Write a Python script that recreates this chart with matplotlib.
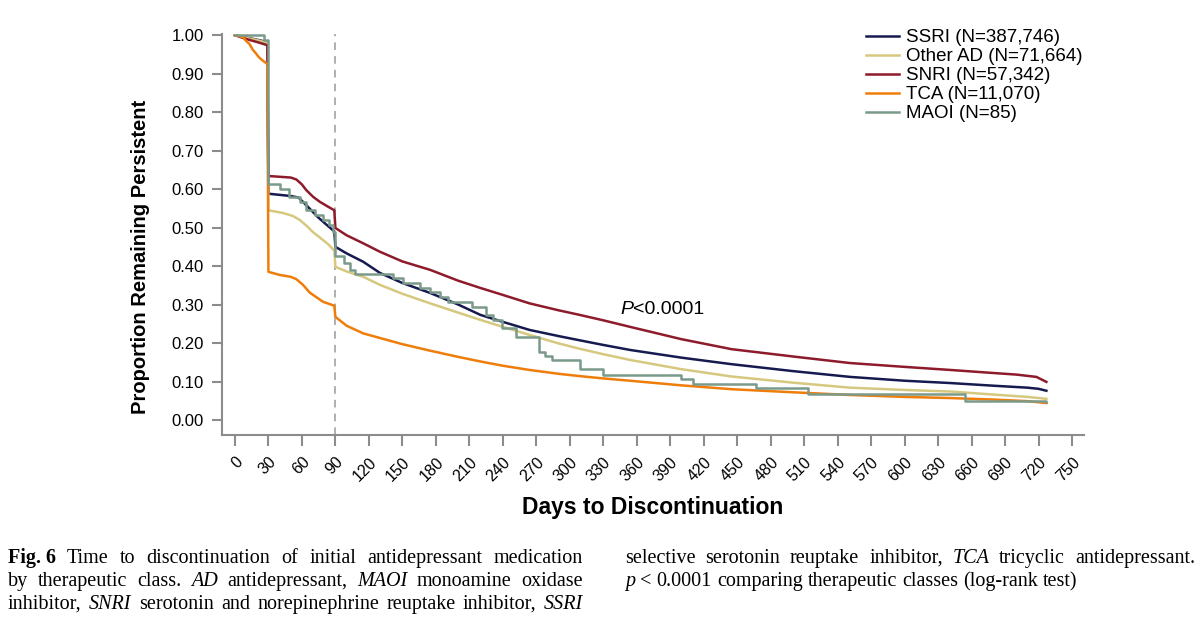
import numpy as np
import matplotlib.pyplot as plt

plt.rcParams['font.family'] = ['Liberation Sans', 'DejaVu Sans']

# ---- data (days, proportion persistent) ----
ssri_days = [0, 10, 20, 29, 30, 40, 50, 57, 65, 74, 81, 89, 90, 100, 115, 130, 150, 175, 200, 220,
             240, 264, 290, 309, 330, 354, 400, 445, 500, 551, 600, 641, 680, 710, 720, 727]
ssri_vals = [1.00, 0.994, 0.988, 0.982, 0.588, 0.585, 0.582, 0.578, 0.555, 0.528, 0.51, 0.49, 0.45,
             0.433, 0.411, 0.382, 0.356, 0.33, 0.30, 0.273, 0.255, 0.234, 0.218, 0.207, 0.195, 0.182,
             0.162, 0.145, 0.127, 0.112, 0.102, 0.096, 0.089, 0.084, 0.081, 0.076]

other_days = [0, 10, 20, 29, 30, 43, 52, 58, 64, 70, 77, 83, 89, 90, 100, 115, 130, 150, 175, 200, 220,
              240, 264, 290, 309, 330, 354, 400, 445, 500, 551, 600, 641, 680, 710, 727]
other_vals = [1.00, 0.993, 0.987, 0.98, 0.545, 0.538, 0.53, 0.52, 0.505, 0.488, 0.472, 0.458, 0.44, 0.398,
              0.386, 0.372, 0.351, 0.328, 0.303, 0.279, 0.26, 0.242, 0.221, 0.199, 0.185, 0.171, 0.156,
              0.132, 0.113, 0.097, 0.084, 0.078, 0.074, 0.066, 0.060, 0.055]

snri_days = [0, 10, 20, 29, 30, 40, 50, 55, 60, 64, 70, 76, 83, 89, 90, 100, 115, 130, 150, 175, 200,
             220, 240, 264, 290, 309, 330, 354, 400, 445, 500, 551, 600, 641, 680, 700, 718, 727]
snri_vals = [1.00, 0.99, 0.982, 0.974, 0.634, 0.632, 0.63, 0.625, 0.612, 0.597, 0.58, 0.567, 0.555,
             0.545, 0.499, 0.48, 0.459, 0.437, 0.412, 0.39, 0.362, 0.343, 0.325, 0.303, 0.285, 0.273,
             0.259, 0.242, 0.21, 0.184, 0.165, 0.148, 0.138, 0.130, 0.122, 0.118, 0.112, 0.099]

tca_days = [0, 7, 10, 13, 16, 19, 21, 24, 29, 30, 40, 50, 55, 61, 67, 79, 89, 90, 100, 115, 130, 150,
            175, 200, 220, 240, 264, 290, 309, 330, 354, 400, 445, 500, 551, 600, 641, 680, 710, 727]
tca_vals = [1.00, 0.995, 0.985, 0.977, 0.962, 0.952, 0.944, 0.936, 0.925, 0.385, 0.377, 0.372, 0.366,
            0.351, 0.331, 0.307, 0.297, 0.268, 0.245, 0.225, 0.213, 0.197, 0.18, 0.164, 0.152, 0.141,
            0.13, 0.12, 0.114, 0.108, 0.102, 0.09, 0.08, 0.072, 0.065, 0.060, 0.057, 0.053, 0.049, 0.044]

maoi_days = [0, 26, 30, 40, 48, 58, 64, 72, 79, 84, 88, 90, 98, 103, 108, 142, 151, 166, 175, 184,
             191, 212, 225, 231, 239, 252, 272, 278, 284, 309, 330, 400, 410, 467, 513, 654, 727]
maoi_vals = [1.00, 0.988, 0.612, 0.600, 0.580, 0.567, 0.545, 0.532, 0.519, 0.507, 0.489, 0.426, 0.407,
             0.390, 0.379, 0.368, 0.355, 0.344, 0.333, 0.320, 0.307, 0.293, 0.273, 0.260, 0.238, 0.216,
             0.177, 0.166, 0.156, 0.132, 0.118, 0.106, 0.094, 0.082, 0.068, 0.049, 0.047]

labels = ['SSRI (N=387,746)', 'Other AD (N=71,664)', 'SNRI (N=57,342)', 'TCA (N=11,070)', 'MAOI (N=85)']
colors = ['#161a4f', '#d6c87e', '#8e1b2b', '#ef7d0a', '#7b9a8b']

xticks = np.arange(0, 751, 30)
yticks = np.arange(0, 1.01, 0.1)

fig = plt.figure(figsize=(12, 6.3), dpi=100)
ax = fig.add_axes([222 / 1200, 1 - 435 / 630, 862 / 1200, 401 / 630])

ax.plot(ssri_days, ssri_vals, color=colors[0], lw=1.8, label=labels[0])
ax.plot(other_days, other_vals, color=colors[1], lw=1.8, label=labels[1])
ax.plot(snri_days, snri_vals, color=colors[2], lw=1.8, label=labels[2])
ax.plot(tca_days, tca_vals, color=colors[3], lw=1.8, label=labels[3])
ax.plot(maoi_days, maoi_vals, color=colors[4], lw=1.8, drawstyle='steps-post', label=labels[4])

ax.axvline(90, color='#9a9a9a', lw=1.1, ls=(0, (5, 4)), zorder=0)

ax.set_xlim(-11.6, 760.7)
ax.set_ylim(-0.039, 1.003)

for s in ['top', 'right']:
    ax.spines[s].set_visible(False)
for s in ['left', 'bottom']:
    ax.spines[s].set_color('#8c8c8c')
    ax.spines[s].set_linewidth(1.5)

ax.set_xticks(xticks)
ax.set_xticklabels([str(v) for v in xticks], rotation=45, ha='right', va='top', rotation_mode='anchor')
ax.set_yticks(yticks)
ax.set_yticklabels(['%.2f' % v for v in yticks])
ax.tick_params(axis='x', length=8, width=1.5, color='#8c8c8c', labelsize=11.5, pad=6)
ax.tick_params(axis='y', length=7, width=1.5, color='#8c8c8c', labelsize=12, pad=6)

ax.set_xlabel('Days to Discontinuation', fontsize=16.5, fontweight='bold', va='center')
ax.xaxis.set_label_coords(0.499, -0.182)
ax.set_ylabel('Proportion Remaining Persistent', fontsize=14.5, fontweight='bold', va='center')
ax.yaxis.set_label_coords(-0.095, 0.444)

pt = ax.text(345, 0.286, 'P', fontsize=14, fontstyle='italic', va='center')
ax.annotate('<0.0001', xy=(1, 0.5), xycoords=pt, fontsize=14, va='center')

ax.legend(loc='upper left', bbox_to_anchor=(866 / 1200, 1 - 29 / 630), bbox_transform=fig.transFigure,
          frameon=False, fontsize=13.5, handlelength=1.75, handletextpad=0.4, labelspacing=0.1,
          borderpad=0, borderaxespad=0)

# ---- caption (justified, two columns) ----
renderer = fig.canvas.get_renderer()
cap_size = 14.5


def caption_line(tokens, x0, x1, y, justify=True):
    arts = []
    for word, st in tokens:
        t = fig.text(0, 0, word, fontsize=cap_size, family='Liberation Serif',
                     fontstyle='italic' if st == 'i' else 'normal',
                     fontweight='bold' if st == 'b' else 'normal',
                     transform=None, va='baseline')
        arts.append(t)
    widths = [a.get_window_extent(renderer).width for a in arts]
    if justify and len(arts) > 1:
        gap = (x1 - x0 - sum(widths)) / (len(arts) - 1)
    else:
        gap = 0.25 * cap_size * 100 / 72
    x = x0
    for a, w in zip(arts, widths):
        a.set_position((x, 630 - y))
        x += w + gap


def toks(s):
    out = []
    for w in s.split(' '):
        if w.startswith('*'):
            out.append((w[1:], 'i'))
        else:
            out.append((w, 'n'))
    return out


caption_line([('Fig. 6', 'b')] + toks('Time to discontinuation of initial antidepressant medication'),
             8, 583, 563)
caption_line(toks('by therapeutic class. *AD antidepressant, *MAOI monoamine oxidase'), 8, 583, 586)
caption_line(toks('inhibitor, *SNRI serotonin and norepinephrine reuptake inhibitor, *SSRI'), 8, 583, 609)
caption_line(toks('selective serotonin reuptake inhibitor, *TCA tricyclic antidepressant.'), 625, 1195, 563)
caption_line(toks('*p < 0.0001 comparing therapeutic classes (log-rank test)'), 625, 1195, 586, justify=False)

fig.savefig('out.png', dpi=100)
